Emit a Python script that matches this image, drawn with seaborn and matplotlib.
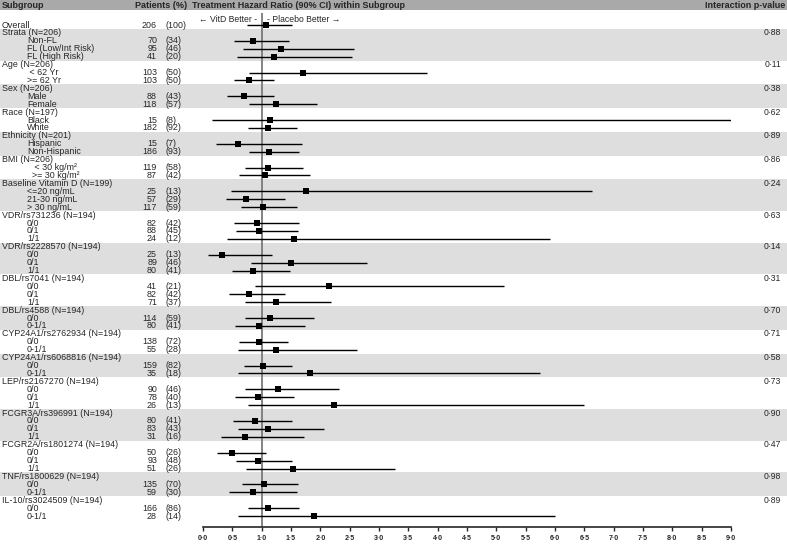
import numpy as np
import pandas as pd
import matplotlib
matplotlib.use('Agg')
import matplotlib.pyplot as plt
import seaborn as sns

# Rows of the forest plot, top to bottom ('G' = group header, 'O' = overall, 'I' = item)
labels = [
    'Overall',
    'Strata (N=206)', 'Non-FL', 'FL (Low/Int Risk)', 'FL (High Risk)',
    'Age (N=206)', ' < 62 Yr', '>= 62 Yr',
    'Sex (N=206)', 'Male', 'Female',
    'Race (N=197)', 'Black', 'White',
    'Ethnicity (N=201)', 'Hispanic', 'Non-Hispanic',
    'BMI (N=206)', '   < 30 kg/m²', '  >= 30 kg/m²',
    'Baseline Vitamin D (N=199)', '<=20 ng/mL', '21-30 ng/mL', '> 30 ng/mL',
    'VDR/rs731236 (N=194)', '0/0', '0/1', '1/1',
    'VDR/rs2228570 (N=194)', '0/0', '0/1', '1/1',
    'DBL/rs7041 (N=194)', '0/0', '0/1', '1/1',
    'DBL/rs4588 (N=194)', '0/0', '0-1/1',
    'CYP24A1/rs2762934 (N=194)', '0/0', '0-1/1',
    'CYP24A1/rs6068816 (N=194)', '0/0', '0-1/1',
    'LEP/rs2167270 (N=194)', '0/0', '0/1', '1/1',
    'FCGR3A/rs396991 (N=194)', '0/0', '0/1', '1/1',
    'FCGR2A/rs1801274 (N=194)', '0/0', '0/1', '1/1',
    'TNF/rs1800629 (N=194)', '0/0', '0-1/1',
    'IL-10/rs3024509 (N=194)', '0/0', '0-1/1',
]
kinds = ['O'] + ['G', 'I', 'I', 'I'] + ['G', 'I', 'I'] * 5 + ['G', 'I', 'I', 'I'] \
    + ['G', 'I', 'I', 'I'] * 3 + ['G', 'I', 'I'] * 3 + ['G', 'I', 'I', 'I'] * 3 + ['G', 'I', 'I'] * 2

n_patients = [206, 70, 95, 41, 103, 103, 88, 118, 15, 182, 15, 186, 119, 87, 25, 57, 117,
              82, 88, 24, 25, 89, 80, 41, 82, 71, 114, 80, 138, 55, 159, 35,
              90, 78, 26, 80, 83, 31, 50, 93, 51, 135, 59, 166, 28]
pct = [100, 34, 46, 20, 50, 50, 43, 57, 8, 92, 7, 93, 58, 42, 13, 29, 59,
       42, 45, 12, 13, 46, 41, 21, 42, 37, 59, 41, 72, 28, 82, 18,
       46, 40, 13, 41, 43, 16, 26, 48, 26, 70, 30, 86, 14]
hr = [1.07, 0.86, 1.33, 1.21, 1.71, 0.79, 0.70, 1.24, 1.15, 1.11, 0.60, 1.13, 1.10, 1.05,
      1.76, 0.74, 1.02, 0.92, 0.95, 1.55, 0.32, 1.50, 0.86, 2.14, 0.79, 1.24, 1.15, 0.95,
      0.95, 1.24, 1.03, 1.83, 1.28, 0.93, 2.23, 0.88, 1.11, 0.72, 0.50, 0.93, 1.54,
      1.04, 0.85, 1.10, 1.90]
ci_low = [0.75, 0.52, 0.69, 0.58, 0.78, 0.52, 0.41, 0.79, 0.15, 0.77, 0.22, 0.78, 0.72, 0.61,
          0.47, 0.39, 0.64, 0.52, 0.56, 0.41, 0.09, 0.82, 0.50, 0.89, 0.44, 0.71, 0.71, 0.55,
          0.62, 0.59, 0.70, 0.59, 0.72, 0.55, 0.76, 0.51, 0.60, 0.31, 0.24, 0.57, 0.73,
          0.67, 0.45, 0.76, 0.60]
ci_high = [1.51, 1.46, 2.58, 2.54, 3.82, 1.21, 1.21, 1.95, 9.0, 1.61, 1.69, 1.64, 1.70, 1.82,
           6.63, 1.39, 1.61, 1.63, 1.62, 5.91, 1.18, 2.79, 1.49, 5.13, 1.40, 2.18, 1.89, 1.74,
           1.45, 2.62, 1.51, 5.75, 2.31, 1.55, 6.5, 1.51, 2.07, 1.72, 1.07, 1.52, 3.27,
           1.62, 1.61, 1.63, 6.0]
p_values = ['0·88', '0·11', '0·38', '0·62', '0·89', '0·86', '0·24', '0·63', '0·14',
            '0·31', '0·70', '0·71', '0·58', '0·73', '0·90', '0·47', '0·98', '0·89']
hr_ticks = np.arange(0, 9.01, 0.5)

# layout (pixels)
W, H = 787, 553
ROW0, STEP = 25, 7.92


def row_at(p):
    return (p - ROW0) / STEP


sns.set_style('white')
plt.rcParams['font.family'] = ['Liberation Sans', 'DejaVu Sans']

rows = np.arange(len(labels))
df = pd.DataFrame({'label': labels, 'kind': kinds, 'row': rows})
data_rows = df[df['kind'] != 'G'].copy()
data_rows['n'] = n_patients
data_rows['pct'] = pct
data_rows['hr'] = hr
data_rows['lo'] = ci_low
data_rows['hi'] = ci_high
groups = df[df['kind'] == 'G']

fig = plt.figure(figsize=(W / 100, H / 100), dpi=100)

# background axes in pixel/row units for bands and text columns
bg = fig.add_axes([0, 0, 1, 1])
bg.set_xlim(0, W)
bg.set_ylim(row_at(H), row_at(0))
bg.axis('off')

bg.axhspan(row_at(0), row_at(10.5), color='#a9a9a9', lw=0)
header_y = row_at(5)
bg.text(2, header_y, 'Subgroup', fontsize=6.5, fontweight='bold', va='center')
bg.text(135, header_y, 'Patients (%)', fontsize=6.5, fontweight='bold', va='center')
bg.text(192, header_y, 'Treatment Hazard Ratio (90% CI) within Subgroup', fontsize=6.5,
        fontweight='bold', va='center')
bg.text(785, header_y, 'Interaction p-value', fontsize=6.5, fontweight='bold', va='center', ha='right')

group_rows = groups['row'].tolist()
ends = group_rows[1:] + [len(labels)]
for k, (start, end) in enumerate(zip(group_rows, ends)):
    if k % 2 == 0:
        bg.axhspan(start - 0.5, end - 0.5, color='#dedede', lw=0)
    bg.text(781, start, p_values[k], fontsize=6.2, ha='right', va='center')

for _, r in df.iterrows():
    x = 27 if r['kind'] == 'I' else 2
    bg.text(x, r['row'], r['label'], fontsize=6.4, va='center')
for _, r in data_rows.iterrows():
    bg.text(157, r['row'], str(r['n']), fontsize=6.4, va='center', ha='right')
    bg.text(166, r['row'], f"({r['pct']})", fontsize=6.4, va='center')

arrow_y = row_at(19)
bg.text(257, arrow_y, '← VitD Better -', fontsize=6.2, va='center', ha='right')
bg.text(267, arrow_y, '- Placebo Better →', fontsize=6.2, va='center')

# forest plot axes
ax = fig.add_axes([203 / W, (H - 527) / H, 528 / W, 527 / H])
ax.set_facecolor('none')
ax.set_xlim(0, 9)
ax.set_ylim(row_at(527), row_at(0))

ax.vlines(1, row_at(13), row_at(527), color='#7a7a7a', lw=1.3, zorder=1)
ax.hlines(data_rows['row'], data_rows['lo'], data_rows['hi'], color='black', lw=1.0, zorder=2)
sns.scatterplot(data=data_rows, x='hr', y='row', marker='s', s=20, color='black',
                edgecolor='black', linewidth=0, legend=False, ax=ax, zorder=3)

ax.set_xlabel('')
ax.set_ylabel('')
ax.set_yticks([])
ax.set_xticks(hr_ticks)
ax.set_xticklabels([f'{v:.1f}'.replace('.', '·') for v in hr_ticks], fontsize=5, fontweight='bold')
ax.tick_params(axis='x', direction='out', length=3, width=1, pad=3, bottom=True)
sns.despine(ax=ax, left=True)
ax.spines['bottom'].set_linewidth(1.2)

fig.savefig('out.png', dpi=100)
